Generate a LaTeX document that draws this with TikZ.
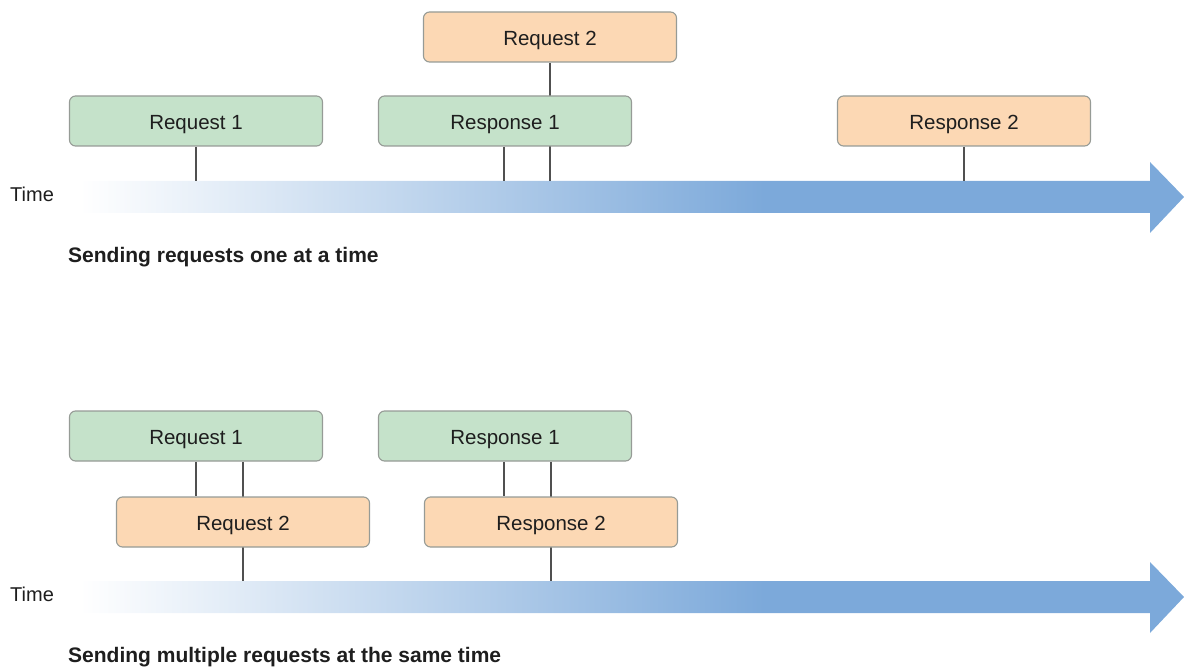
\documentclass[tikz,border=0pt]{standalone}
\usepackage{fontspec}
\setmainfont{Liberation Sans}
\pgfdeclarelayer{background}
\pgfsetlayers{background,main}
\definecolor{boxgreen}{RGB}{197,226,202}
\definecolor{boxorange}{RGB}{252,216,180}
\definecolor{boxline}{RGB}{150,155,150}
\definecolor{timeblue}{RGB}{124,169,218}
\definecolor{tickline}{RGB}{80,80,80}
\definecolor{txt}{RGB}{30,30,30}
% white on the left, full blue from about 62% of the arrow's length onwards
\pgfdeclarehorizontalshading{timefade}{100bp}{%
  color(0bp)=(white); color(25bp)=(white);
  color(56bp)=(timeblue); color(100bp)=(timeblue)}
\tikzset{
  evbox/.style={draw=boxline, line width=1.1pt, rounded corners=6pt,
    minimum width=253pt, minimum height=50pt, inner sep=0pt,
    text height=17pt, text depth=0pt,
    font=\fontsize{20.5}{24}\selectfont, text=txt},
  reqbox/.style={evbox, fill=boxgreen},
  repbox/.style={evbox, fill=boxorange},
  tick/.style={draw=tickline, line width=1.4pt},
  timelbl/.style={font=\fontsize{20}{24}\selectfont, text=txt, anchor=west, inner sep=0pt},
  caption/.style={font=\fontsize{21}{24}\selectfont\bfseries, text=txt, anchor=west, inner sep=0pt},
}
\newcommand{\timeline}[1]{%
  \shade[shading=timefade]
    (80,#1-16) -- (1150,#1-16) -- (1150,#1-35) -- (1184,#1)
    -- (1150,#1+36) -- (1150,#1+16) -- (80,#1+16) -- cycle;
}
\begin{document}
\begin{tikzpicture}[x=1pt, y=-1pt]
\useasboundingbox (0,0) rectangle (1190,668);

% ---- one request at a time ----
\node[repbox] (a-req2) at (550,37)  {Request 2};
\node[reqbox] (a-req1) at (196,121) {Request 1};
\node[reqbox] (a-res1) at (505,121) {Response 1};
\node[repbox] (a-res2) at (964,121) {Response 2};
\coordinate (a-axis) at (0,181);
\node[timelbl] (a-time) at (10,194) {Time};
\node[caption] (a-cap) at (68,257) {Sending requests one at a time};

% ---- several requests at once ----
\node[reqbox] (b-req1) at (196,436) {Request 1};
\node[reqbox] (b-res1) at (505,436) {Response 1};
\node[repbox] (b-req2) at (243,522) {Request 2};
\node[repbox] (b-res2) at (551,522) {Response 2};
\coordinate (b-axis) at (0,581);
\node[timelbl] (b-time) at (10,594) {Time};
\node[caption] (b-cap) at (68,657) {Sending multiple requests at the same time};

\begin{pgfonlayer}{background}
  \timeline{197}
  \timeline{597}
  % ticks of the first timeline
  \draw[tick] (a-req1.south) -- (a-req1.south |- a-axis);
  \draw[tick] ([xshift=-1pt]a-res1.south) -- ([xshift=-1pt]a-res1.south |- a-axis);
  \draw[tick] (a-req2.south) -- (a-req2.south |- a-axis);
  \draw[tick] (a-res2.south) -- (a-res2.south |- a-axis);
  % ticks of the second timeline
  \draw[tick] (b-req1.south) -- (b-req1.south |- b-req2.north);
  \draw[tick] (b-req2.center |- b-req1.south) -- (b-req2.south |- b-axis);
  \draw[tick] ([xshift=-1pt]b-res1.south) -- ([xshift=-1pt]b-res1.south |- b-res2.north);
  \draw[tick] (b-res2.center |- b-res1.south) -- (b-res2.south |- b-axis);
\end{pgfonlayer}
\end{tikzpicture}
\end{document}
